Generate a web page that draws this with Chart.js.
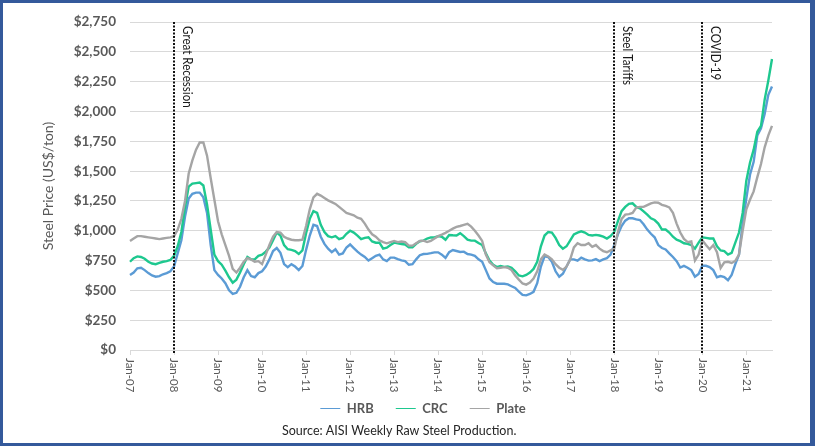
<!DOCTYPE html>
<html>
<head>
<meta charset="utf-8">
<script src="https://cdn.jsdelivr.net/npm/chart.js@4.4.0/dist/chart.umd.min.js"></script>
<style>
  html, body { margin: 0; padding: 0; background: #fff; }
  #wrap { position: relative; width: 815px; height: 446px; }
  #frame { position: absolute; left: 0; top: 0; width: 815px; height: 446px; box-sizing: border-box;
           border: 3px solid #34599b; border-right-width: 5px; pointer-events: none; }
</style>
</head>
<body>
<div id="wrap">
  <canvas id="steelChart" width="815" height="446"></canvas>
  <div id="frame"></div>
</div>
<script>
// monthly prices, Jan-07 .. Aug-21 (US$/ton)
const hrb = [
  630, 650, 685, 690, 670, 645, 625, 615, 620, 635, 645, 660,
  700, 810, 920, 1120, 1270, 1310, 1320, 1320, 1280, 1150, 880, 670,
  630, 600, 560, 500, 470, 480, 530, 610, 670, 620, 610, 645,
  660, 700, 760, 830, 855, 815, 720, 695, 720, 700, 670, 705,
  840, 960, 1050, 1040, 950, 890, 850, 820, 845, 800, 810, 860,
  885, 855, 825, 800, 780, 750, 770, 790, 800, 760, 745, 775,
  775, 762, 752, 745, 715, 720, 760, 795, 805, 806, 812, 819,
  819, 800, 772, 820, 838, 830, 822, 825, 805, 800, 790, 760,
  740, 670, 600, 570, 556, 556, 556, 550, 535, 520, 490, 462,
  458, 470, 488, 560, 700, 785, 780, 740, 660, 615, 640, 700,
  760, 760, 750, 775, 760, 750, 752, 762, 745, 760, 770, 800,
  880, 970, 1040, 1085, 1105, 1105, 1095, 1090, 1055, 1010, 975, 945,
  880, 855, 843, 810, 780, 745, 692, 705, 690, 670, 615, 637,
  706, 706, 695, 670, 610, 620, 612, 585, 630, 720, 800, 1060,
  1270, 1470, 1578, 1800, 1860, 1980, 2140, 2210
];
const crc = [
  740, 770, 785, 780, 765, 740, 725, 720, 730, 740, 745, 755,
  790, 870, 990, 1200, 1370, 1395, 1400, 1405, 1380, 1220, 1010, 800,
  745, 715, 665, 610, 565, 590, 650, 720, 780, 760, 760, 790,
  800, 825, 860, 920, 985, 960, 880, 845, 840, 830, 805, 835,
  980, 1100, 1165, 1150, 1050, 990, 955, 945, 955, 930, 940, 975,
  1000, 985, 960, 930, 940, 945, 910, 900, 900, 850, 858, 880,
  900, 895, 889, 885, 862, 862, 890, 912, 917, 935, 944, 944,
  955, 950, 925, 965, 962, 960, 980, 955, 925, 917, 917, 898,
  880, 810, 750, 715, 695, 705, 697, 700, 690, 660, 625, 618,
  630, 650, 680, 740, 870, 960, 990, 985, 940, 880, 850, 870,
  920, 970, 985, 995, 985, 965, 960, 965, 960, 950, 935, 955,
  990, 1080, 1165, 1200, 1225, 1230, 1200, 1188, 1163, 1135, 1105, 1090,
  1060, 1010, 1010, 985, 950, 925, 913, 895, 890, 880, 850, 900,
  945, 940, 935, 935, 870, 835, 830, 800, 815, 900, 985, 1150,
  1420, 1570, 1680, 1830, 1880, 2100, 2260, 2440
];
const plate = [
  915, 935, 955, 955, 950, 945, 940, 935, 930, 935, 940, 945,
  955, 1010, 1100, 1250, 1480, 1590, 1680, 1740, 1740, 1630, 1440, 1260,
  1080, 970, 880, 790, 680, 650, 690, 740, 770, 760, 740, 745,
  720, 800, 880, 950, 990, 985, 950, 935, 925, 920, 920, 925,
  1040, 1180, 1280, 1310, 1295, 1275, 1255, 1240, 1225, 1200, 1175, 1150,
  1140, 1130, 1110, 1100, 1060, 1010, 970, 950, 920, 905, 895, 905,
  915, 905, 910, 905, 875, 875, 895, 915, 917, 905, 915, 935,
  955, 968, 982, 1000, 1018, 1032, 1040, 1050, 1058, 1035, 1000, 960,
  915, 800, 735, 710, 685, 690, 695, 690, 670, 625, 590, 558,
  548, 565, 600, 660, 760, 800, 785, 760, 720, 690, 672, 700,
  760, 860, 895, 880, 880, 895, 865, 880, 850, 830, 820, 835,
  850, 990, 1100, 1135, 1140, 1150, 1195, 1200, 1200, 1215, 1230, 1238,
  1235, 1218, 1208, 1196, 1150, 1060, 985, 932, 905, 910, 750, 800,
  920, 880, 845, 880, 820, 688, 735, 740, 730, 747, 800, 1000,
  1180, 1260, 1330, 1450, 1560, 1700, 1800, 1880
];

const monthNames = ['Jan', 'Feb', 'Mar', 'Apr', 'May', 'Jun', 'Jul', 'Aug', 'Sep', 'Oct', 'Nov', 'Dec'];
const labels = hrb.map((v, i) => monthNames[i % 12] + '-' + String(7 + Math.floor(i / 12)).padStart(2, '0'));

const events = [
  { label: 'Great Recession', at: 'Jan-08' },
  { label: 'Steel Tariffs', at: 'Jan-18' },
  { label: 'COVID-19', at: 'Jan-20' }
];

const yTitle = 'Steel Price (US$/ton)';
const sourceNote = 'Source: AISI Weekly Raw Steel Production.';
const gray = '#595959';
const fontFam = "Lato, 'Open Sans', sans-serif";

// annotations, rotated x labels, axis title, source line
const decorations = {
  id: 'decorations',
  afterDraw(chart) {
    const { ctx, chartArea, scales: { x } } = chart;
    ctx.save();

    events.forEach(ev => {
      const px = Math.round(x.getPixelForValue(labels.indexOf(ev.at)));
      ctx.strokeStyle = '#111';
      ctx.lineWidth = 2;
      ctx.setLineDash([2, 1.5]);
      ctx.beginPath();
      ctx.moveTo(px, chartArea.top);
      ctx.lineTo(px, chartArea.bottom + 3);
      ctx.stroke();
      ctx.setLineDash([]);

      // narrow label, squeezed along its reading direction
      ctx.save();
      ctx.translate(px + 13, chartArea.top + 4);
      ctx.rotate(Math.PI / 2);
      ctx.scale(0.89, 1);
      ctx.fillStyle = '#1a1a1a';
      ctx.font = '13px ' + fontFam;
      ctx.textAlign = 'left';
      ctx.textBaseline = 'middle';
      ctx.fillText(ev.label, 0, 0);
      ctx.restore();
    });

    // x tick labels read top to bottom
    ctx.fillStyle = gray;
    ctx.font = '11.5px ' + fontFam;
    ctx.textAlign = 'left';
    ctx.textBaseline = 'middle';
    x.ticks.forEach((t, i) => {
      if (t.label == null || t.label === '') return;
      const px = x.getPixelForTick(i);
      ctx.save();
      ctx.translate(px, chartArea.bottom + 8);
      ctx.rotate(Math.PI / 2);
      ctx.fillText(t.label, 0, 0);
      ctx.restore();
    });

    // y title
    ctx.save();
    ctx.translate(48, 186);
    ctx.rotate(-Math.PI / 2);
    ctx.font = '14px ' + fontFam;
    ctx.textAlign = 'center';
    ctx.fillStyle = gray;
    ctx.fillText(yTitle, 0, 0);
    ctx.restore();

    ctx.font = '12.5px ' + fontFam;
    ctx.fillStyle = '#262626';
    ctx.textAlign = 'left';
    ctx.fillText(sourceNote, 282, 431);

    ctx.restore();
  }
};

const ctx = document.getElementById('steelChart').getContext('2d');
const steelChart = new Chart(ctx, {
  type: 'line',
  data: {
    labels: labels,
    datasets: [
      { label: 'HRB', data: hrb, borderColor: '#5b9bd5', backgroundColor: '#5b9bd5', order: 3 },
      { label: 'CRC', data: crc, borderColor: '#1ec88f', backgroundColor: '#1ec88f', order: 2 },
      { label: 'Plate', data: plate, borderColor: '#a5a5a5', backgroundColor: '#a5a5a5', order: 1 }
    ]
  },
  options: {
    responsive: false,
    animation: false,
    layout: { padding: { left: 74, right: 43, top: 11, bottom: 21 } },
    elements: {
      line: { borderWidth: 2.4, tension: 0 },
      point: { radius: 0 }
    },
    plugins: {
      tooltip: { enabled: false },
      legend: {
        position: 'bottom',
        labels: {
          usePointStyle: true,
          pointStyle: 'line',
          pointStyleWidth: 20,
          padding: 22,
          color: gray,
          font: { family: fontFam, size: 13, weight: 'bold' },
          sort: (a, b) => a.datasetIndex - b.datasetIndex
        }
      }
    },
    scales: {
      x: {
        grid: { drawOnChartArea: false, drawTicks: true, tickLength: 5, color: '#d9d9d9' },
        border: { color: '#d9d9d9' },
        ticks: {
          autoSkip: false,
          minRotation: 90,
          maxRotation: 90,
          color: 'rgba(0,0,0,0)',
          font: { family: fontFam, size: 11.5 },
          callback: function (v, i) {
            const l = labels[i];
            return l.startsWith('Jan') ? l : null;
          }
        },
        afterFit: s => { s.height = 30; }
      },
      y: {
        min: 0,
        max: 2750,
        grid: { color: '#d9d9d9', drawTicks: false },
        border: { display: false },
        ticks: {
          stepSize: 250,
          padding: 14,
          color: gray,
          font: { family: fontFam, size: 13.5, weight: 'bold' },
          callback: v => '$' + v.toLocaleString('en-US')
        },
        afterFit: s => { s.width = 56; }
      }
    }
  },
  plugins: [decorations]
});
</script>
</body>
</html>
